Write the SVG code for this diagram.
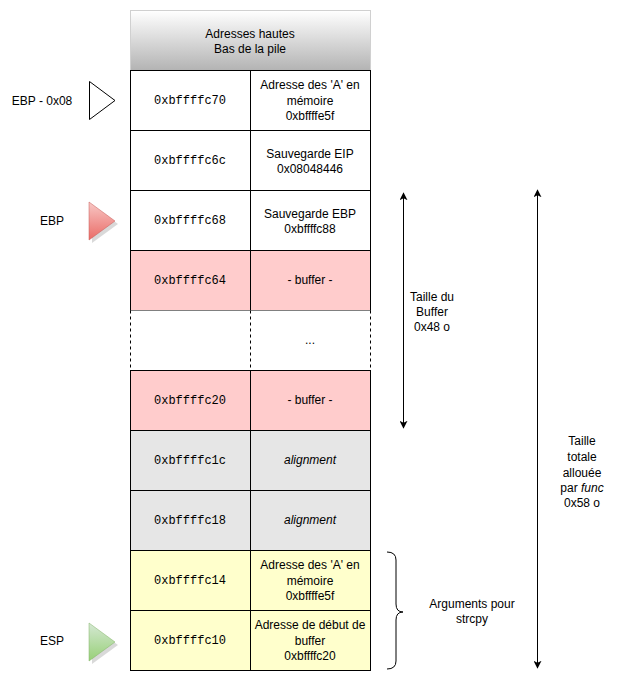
<svg xmlns="http://www.w3.org/2000/svg" width="617" height="684" viewBox="0 0 617 684">
<defs>
<linearGradient id="hdr" x1="0" y1="0" x2="0" y2="1"><stop offset="0" stop-color="#ffffff"/><stop offset="1" stop-color="#b3b3b3"/></linearGradient>
<linearGradient id="red" x1="0" y1="0" x2="0" y2="1"><stop offset="0" stop-color="#f8c8c6"/><stop offset="1" stop-color="#ea6b66"/></linearGradient>
<linearGradient id="green" x1="0" y1="0" x2="0" y2="1"><stop offset="0" stop-color="#d5e8d4"/><stop offset="1" stop-color="#97d077"/></linearGradient>
<marker id="ah" viewBox="0 0 10 10" refX="9" refY="5" markerWidth="8" markerHeight="8" orient="auto-start-reverse" markerUnits="userSpaceOnUse"><path d="M0,0 L10,5 L0,10 L2.5,5 Z" fill="#000"/></marker>
</defs>
<style>
text{font-family:"Liberation Sans",Arial,sans-serif;font-size:12px;fill:#000;text-anchor:middle}
.m{font-family:"Liberation Mono","Courier New",monospace;font-size:12px}
.cell{stroke:#000;stroke-width:1}
.w{fill:#fff}.p{fill:#ffcccc}.g{fill:#e6e6e6}.y{fill:#ffffcc}
.con{fill:none;stroke:#000;stroke-width:1}
</style>
<g id="header">
<rect x="130.5" y="10.5" width="240" height="60" fill="url(#hdr)" stroke="#d0d0d0"/>
<text x="250" y="38">Adresses hautes</text>
<text x="250" y="53">Bas de la pile</text>
</g>
<g id="row-c70">
<rect class="cell w" x="130.5" y="70.5" width="120" height="60"/>
<rect class="cell w" x="250.5" y="70.5" width="120" height="60"/>
<text class="m" x="190" y="104">0xbffffc70</text>
<text x="310" y="89">Adresse des 'A' en</text>
<text x="310" y="105">mémoire</text>
<text x="310" y="120">0xbffffe5f</text>
</g>
<g id="row-c6c">
<rect class="cell w" x="130.5" y="130.5" width="120" height="60"/>
<rect class="cell w" x="250.5" y="130.5" width="120" height="60"/>
<text class="m" x="190" y="164">0xbffffc6c</text>
<text x="310" y="158">Sauvegarde EIP</text>
<text x="310" y="173">0x08048446</text>
</g>
<g id="row-c68">
<rect class="cell w" x="130.5" y="190.5" width="120" height="60"/>
<rect class="cell w" x="250.5" y="190.5" width="120" height="60"/>
<text class="m" x="190" y="224">0xbffffc68</text>
<text x="310" y="218">Sauvegarde EBP</text>
<text x="310" y="233">0xbffffc88</text>
</g>
<g id="row-c64">
<rect class="cell p" x="130.5" y="250.5" width="120" height="60"/>
<rect class="cell p" x="250.5" y="250.5" width="120" height="60"/>
<text class="m" x="190" y="284">0xbffffc64</text>
<text x="310" y="284">- buffer -</text>
</g>
<g id="row-dots">
<rect x="130.5" y="310.5" width="240" height="60" fill="#fff"/>
<path d="M130.5,310.5 V370.5 M250.5,310.5 V370.5 M370.5,310.5 V370.5" stroke="#000" stroke-dasharray="3,3" fill="none"/>
<text x="310" y="344">...</text>
</g>
<g id="row-c20">
<rect class="cell p" x="130.5" y="370.5" width="120" height="60"/>
<rect class="cell p" x="250.5" y="370.5" width="120" height="60"/>
<text class="m" x="190" y="404">0xbffffc20</text>
<text x="310" y="404">- buffer -</text>
</g>
<g id="row-c1c">
<rect class="cell g" x="130.5" y="430.5" width="120" height="60"/>
<rect class="cell g" x="250.5" y="430.5" width="120" height="60"/>
<text class="m" x="190" y="464">0xbffffc1c</text>
<text x="310" y="464" font-style="italic">alignment</text>
</g>
<g id="row-c18">
<rect class="cell g" x="130.5" y="490.5" width="120" height="60"/>
<rect class="cell g" x="250.5" y="490.5" width="120" height="60"/>
<text class="m" x="190" y="524">0xbffffc18</text>
<text x="310" y="524" font-style="italic">alignment</text>
</g>
<g id="row-c14">
<rect class="cell y" x="130.5" y="550.5" width="120" height="60"/>
<rect class="cell y" x="250.5" y="550.5" width="120" height="60"/>
<text class="m" x="190" y="584">0xbffffc14</text>
<text x="310" y="569">Adresse des 'A' en</text>
<text x="310" y="585">mémoire</text>
<text x="310" y="600">0xbffffe5f</text>
</g>
<g id="row-c10">
<rect class="cell y" x="130.5" y="610.5" width="120" height="60"/>
<rect class="cell y" x="250.5" y="610.5" width="120" height="60"/>
<text class="m" x="190" y="644">0xbffffc10</text>
<text x="310" y="629">Adresse de début de</text>
<text x="310" y="645">buffer</text>
<text x="310" y="660">0xbffffc20</text>
</g>
<g id="ptr-ebp08">
<text x="42" y="105">EBP - 0x08</text>
<path d="M89.5,81.5 L115,100.5 L89.5,119.5 Z" fill="#fff" stroke="#000"/>
</g>
<g id="ptr-ebp">
<text x="52" y="225">EBP</text>
<path d="M92,205 L118,224 L92,243 Z" fill="#000" opacity="0.15"/>
<path d="M89,202 L115,221 L89,240 Z" fill="url(#red)" stroke="#c45a56" stroke-width="0.5"/>
</g>
<g id="ptr-esp">
<text x="52" y="645">ESP</text>
<path d="M92,626 L118,645 L92,664 Z" fill="#000" opacity="0.15"/>
<path d="M89,623 L115,642 L89,661 Z" fill="url(#green)" stroke="#82b366" stroke-width="0.5"/>
</g>
<g id="connectors">
<line class="con" x1="403.5" y1="193" x2="403.5" y2="428" marker-start="url(#ah)" marker-end="url(#ah)"/>
<line class="con" x1="537.5" y1="190" x2="537.5" y2="668" marker-start="url(#ah)" marker-end="url(#ah)"/>
<path class="con" d="M387,552 Q396,552 396,560 V604 Q396,612 403,612 Q396,612 396,620 V661 Q396,669 387,669"/>
</g>
<g id="labels">
<text x="432" y="301">Taille du</text>
<text x="432" y="316">Buffer</text>
<text x="432" y="331">0x48 o</text>
<text x="582" y="445">Taille</text>
<text x="582" y="461">totale</text>
<text x="582" y="477">allouée</text>
<text x="582" y="492">par <tspan font-style="italic">func</tspan></text>
<text x="582" y="507">0x58 o</text>
<text x="472" y="608">Arguments pour</text>
<text x="472" y="623">strcpy</text>
</g>
</svg>
